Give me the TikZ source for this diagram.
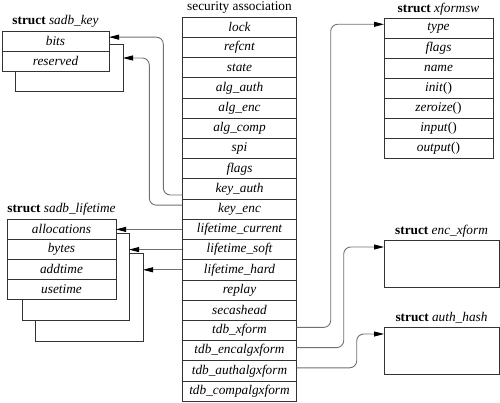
\documentclass[tikz,border=0pt]{standalone}
\usepackage{fontspec}
\setmainfont{Liberation Serif}
\usetikzlibrary{arrows.meta,positioning}
\definecolor{boxline}{HTML}{333333}
\definecolor{linkline}{HTML}{707070}

\begin{document}
\begin{tikzpicture}[
  x=1pt,y=-1pt,
  field/.style={draw=boxline,fill=white,line width=0.8pt,outer sep=0pt,inner sep=0pt,
    minimum height=20pt,font=\fontsize{13.3}{15}\selectfont\itshape},
  back/.style={draw=boxline,fill=white,line width=0.8pt,outer sep=0pt,inner sep=0pt},
  title/.style={anchor=base,inner sep=0pt,font=\fontsize{13.3}{15}\selectfont},
  link/.style={-{Triangle[length=10pt,width=5pt,color=black]},draw=linkline,
    line width=0.9pt,rounded corners=7pt}
]
\useasboundingbox (0,0) rectangle (500,403);

% security association
\foreach \f [count=\i] in {lock,refcnt,state,alg\_auth,alg\_enc,alg\_comp,spi,flags,
  key\_auth,key\_enc,lifetime\_current,lifetime\_soft,lifetime\_hard,replay,secashead,
  tdb\_xform,tdb\_encalgxform,tdb\_authalgxform,tdb\_compalgxform}
  \node[field,minimum width=114.4pt,minimum height=20.2pt] (sa\i) at (239.5,{17.3+20.2*(\i-0.5)}) {\f};
\node[title] at ([yshift=6.5pt]sa1.north) {security association};

% struct sadb_key
\node[back,minimum width=108pt,minimum height=47pt] (keyback) at (69,67.5) {};
\node[field,minimum width=107pt,minimum height=20.3pt] (bits) at (55.5,41.15) {bits};
\node[field,minimum width=107pt,minimum height=20.3pt,below=0pt of bits] (reserved) {reserved};
\node[title] at ([yshift=6pt]bits.north) {\textbf{struct} \textit{sadb\_key}};

% struct sadb_lifetime
\node[back,minimum width=108pt,minimum height=88pt] (lback2) at (89,297) {};
\node[back,minimum width=107pt,minimum height=87pt] (lback1) at (75.5,276.5) {};
\foreach \f [count=\i] in {allocations,bytes,addtime,usetime}
  \node[field,minimum width=109pt] (lt\i) at (61.5,{219+20*(\i-0.5)}) {\f};
\node[title] at ([yshift=6pt]lt1.north) {\textbf{struct} \textit{sadb\_lifetime}};

% struct xformsw
\foreach \f [count=\i] in {type,flags,name,init\/{\upshape()},zeroize\/{\upshape()},
  input\/{\upshape()},output\/{\upshape()}}
  \node[field,minimum width=109pt] (xf\i) at (438.5,{18.3+20*(\i-0.5)}) {\f};
\node[title] at ([yshift=6pt]xf1.north) {\textbf{struct} \textit{xformsw}};

% struct enc_xform / auth_hash
\node[back,minimum width=115pt,minimum height=47pt] (encx) at (441.5,263.5) {};
\node[title] at ([yshift=6pt]encx.north) {\textbf{struct} \textit{enc\_xform}};
\node[back,minimum width=115pt,minimum height=47pt] (authx) at (441.5,350.5) {};
\node[title] at ([yshift=6pt]authx.north) {\textbf{struct} \textit{auth\_hash}};

% links
\draw[link] ([yshift=-6pt]sa9.west) -- ++(-19,0) |- ([yshift=4pt]bits.east);
\draw[link] ([yshift=4pt]sa10.west) -- ++(-33,0) |- ([yshift=9.5pt]keyback.east);
\draw[link] (sa11.west) -- (sa11.west -| lt1.east);
\draw[link] (sa12.west) -- (sa12.west -| lback1.east);
\draw[link] (sa13.west) -- (sa13.west -| lback2.east);
\draw[link] ([yshift=3pt]sa16.east) -- ++(34,0) |- ([yshift=4pt]xf1.west);
\draw[link] ([yshift=3pt]sa17.east) -- ++(47,0) |- ([yshift=-7pt]encx.north west);
\draw[link] ([yshift=3pt]sa18.east) -- ++(60,0) |- ([yshift=-7pt]authx.north west);
\end{tikzpicture}
\end{document}
